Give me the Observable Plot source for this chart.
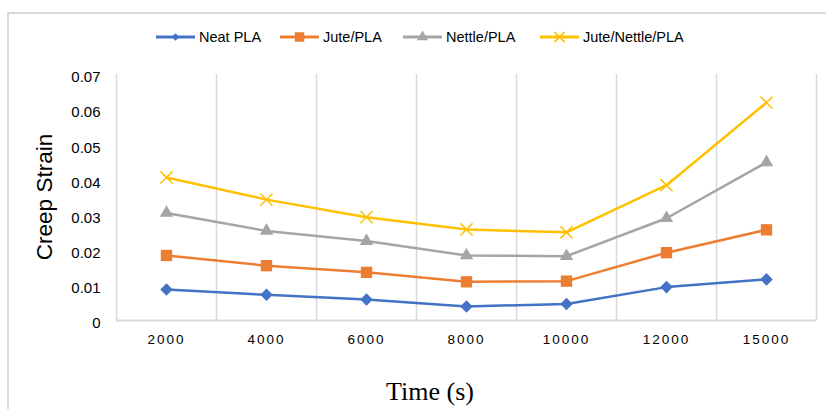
<!DOCTYPE html>
<html>
<head>
<meta charset="utf-8">
<script src="https://cdn.jsdelivr.net/npm/d3@7"></script>
<script src="https://cdn.jsdelivr.net/npm/@observablehq/plot@0.6"></script>
<style>
  html, body { margin: 0; padding: 0; background: #fff; }
  #wrap { position: relative; width: 826px; height: 409px; overflow: hidden; background: #fff; font-family: "Liberation Sans", Arial, sans-serif; }
  #border { position: absolute; left: 7px; top: 12px; width: 900px; height: 500px; border: 2px solid #d9d9d9; box-sizing: border-box; }
  #legend { position: absolute; top: 27px; left: 0; width: 826px; height: 20px; }
  .item { position: absolute; top: 0; height: 20px; display: flex; align-items: center; font-size: 14.5px; color: #000; white-space: nowrap; }
  .item svg { margin-right: 4px; }
  #chart { position: absolute; left: 0; top: 60px; }
  #ylabel { position: absolute; left: 45px; top: 197px; transform: translate(-50%, -50%) rotate(-90deg); font-size: 22.5px; white-space: nowrap; color: #000; }
  #xlabel { position: absolute; left: 430px; top: 392px; transform: translate(-50%, -50%); font-family: "Liberation Serif", "Times New Roman", serif; font-size: 26px; white-space: nowrap; color: #000; }
  g[aria-label="x-axis tick label"] text { letter-spacing: 2px; }
</style>
</head>
<body>
<div id="wrap">
  <div id="border"></div>
  <div id="legend"></div>
  <div id="chart"></div>
  <div id="ylabel">Creep Strain</div>
  <div id="xlabel">Time (s)</div>
</div>
<script>
// ---- data ----
const times = ["2000", "4000", "6000", "8000", "10000", "12000", "15000"];
const seriesNames = ["Neat PLA", "Jute/PLA", "Nettle/PLA", "Jute/Nettle/PLA"];
const neatPLA       = [0.0088, 0.0073, 0.0060, 0.0040, 0.0047, 0.0095, 0.0117];
const jutePLA       = [0.0185, 0.0156, 0.0137, 0.0110, 0.0112, 0.0193, 0.0258];
const nettlePLA     = [0.0306, 0.0255, 0.0226, 0.0185, 0.0183, 0.0291, 0.0450];
const juteNettlePLA = [0.0407, 0.0344, 0.0294, 0.0259, 0.0251, 0.0385, 0.0620];
const yTicks = [0, 0.01, 0.02, 0.03, 0.04, 0.05, 0.06, 0.07];
const colors = ["#4472C4", "#ED7D31", "#A5A5A5", "#FFC000"];

const seriesValues = [neatPLA, jutePLA, nettlePLA, juteNettlePLA];
const rows = [];
seriesNames.forEach((s, si) => {
  times.forEach((t, i) => rows.push({series: s, time: t, xi: i + 0.5, value: seriesValues[si][i]}));
});
const bySeries = name => rows.filter(d => d.series === name);
const gridIdx = d3.range(times.length + 1);

const chart = Plot.plot({
  width: 826,
  height: 300,
  marginLeft: 116,
  marginRight: 10,
  marginTop: 14,
  marginBottom: 40,
  style: {fontFamily: "Liberation Sans, Arial, sans-serif", background: "transparent", overflow: "visible"},
  x: {domain: [0, times.length], axis: null},
  y: {domain: [0, 0.07], axis: null},
  color: {domain: seriesNames, range: colors},
  marks: [
    Plot.ruleX(gridIdx, {stroke: "#d9d9d9", strokeWidth: 1.5}),
    Plot.ruleY([0], {stroke: "#d9d9d9", strokeWidth: 2}),
    Plot.axisY({ticks: yTicks, tickSize: 0, tickPadding: 16, fontSize: 15, dy: 3,
      tickFormat: d => d === 0 ? "0" : d.toFixed(2), label: null}),
    Plot.axisX({ticks: times.map((_, i) => i + 0.5), tickSize: 0, tickPadding: 14, fontSize: 13.5,
      fontFamily: "Liberation Sans, Arial, sans-serif",
      tickFormat: v => times[Math.floor(v)], label: null}),
    Plot.line(rows, {x: "xi", y: "value", z: "series", stroke: "series", strokeWidth: 2.5}),
    Plot.dot(bySeries("Neat PLA"), {x: "xi", y: "value", symbol: "square", rotate: 45, r: 5.0, fill: colors[0], stroke: "none"}),
    Plot.dot(bySeries("Jute/PLA"), {x: "xi", y: "value", symbol: "square", r: 6.4, fill: colors[1], stroke: "none"}),
    Plot.dot(bySeries("Nettle/PLA"), {x: "xi", y: "value", symbol: "triangle", r: 5.0, fill: colors[2], stroke: "none"}),
    Plot.dot(bySeries("Jute/Nettle/PLA"), {x: "xi", y: "value", symbol: "times", r: 5.6, stroke: colors[3], strokeWidth: 1.5, fill: "none"})
  ]
});
document.getElementById("chart").appendChild(chart);

// ---- legend ----
const legendX = [156, 280, 403, 540];
const legendSym = [
  {type: d3.symbolSquare, size: 30, rot: 45, fill: true},
  {type: d3.symbolSquare, size: 90, rot: 0, fill: true},
  {type: d3.symbolTriangle, size: 55, rot: 0, fill: true},
  {type: d3.symbolTimes, size: 70, rot: 0, fill: false}
];
const legend = document.getElementById("legend");
seriesNames.forEach((name, i) => {
  const item = document.createElement("div");
  item.className = "item";
  item.style.left = legendX[i] + "px";
  const ns = "http://www.w3.org/2000/svg";
  const svg = document.createElementNS(ns, "svg");
  svg.setAttribute("width", 39); svg.setAttribute("height", 20);
  const line = document.createElementNS(ns, "line");
  line.setAttribute("x1", 0); line.setAttribute("x2", 39);
  line.setAttribute("y1", 10); line.setAttribute("y2", 10);
  line.setAttribute("stroke", colors[i]); line.setAttribute("stroke-width", 3);
  svg.appendChild(line);
  const p = document.createElementNS(ns, "path");
  const s = legendSym[i];
  p.setAttribute("d", d3.symbol(s.type, s.size)());
  p.setAttribute("transform", `translate(19.5,10) rotate(${s.rot})`);
  if (s.fill) { p.setAttribute("fill", colors[i]); }
  else { p.setAttribute("fill", "none"); p.setAttribute("stroke", colors[i]); p.setAttribute("stroke-width", 1.5); }
  svg.appendChild(p);
  item.appendChild(svg);
  const span = document.createElement("span");
  span.textContent = name;
  item.appendChild(span);
  legend.appendChild(item);
});
</script>
</body>
</html>
